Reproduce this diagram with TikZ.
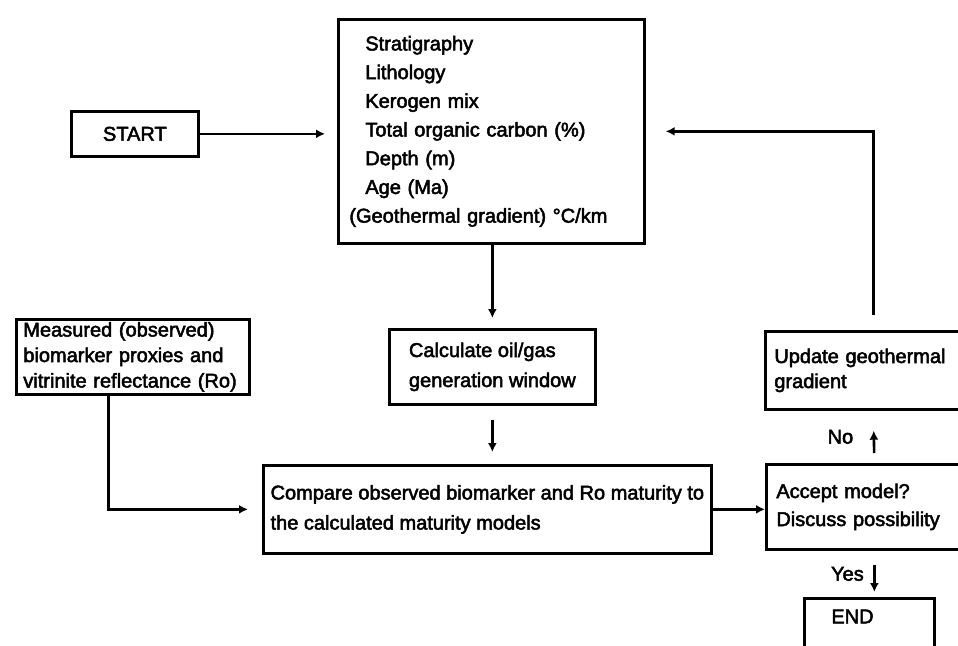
\documentclass[tikz,border=0pt]{standalone}
\usepackage{fontspec}
\setmainfont{Liberation Sans}[FakeBold=2.5]
\usetikzlibrary{arrows.meta}
\begin{document}
\begin{tikzpicture}[x=1pt,y=-1pt,
  box/.style={draw, line width=2.7pt, rectangle, inner ysep=0pt, anchor=north west},
  txt/.style={font=\fontsize{20}{#1}\selectfont},
  conn/.style={line width=2.6pt, -{Latex[length=9pt,width=9pt]}},
  lbl/.style={font=\fontsize{20}{24}\selectfont}]
\useasboundingbox (0,0) rectangle (958,645);
\clip (0,0) rectangle (958,645);
% nodes
\node[box, txt=24, minimum width=127pt, minimum height=45pt] (start) at (70,110) {START};
\node[box, txt=28.7, minimum width=306pt, minimum height=224pt, inner xsep=27pt,
      text width=252pt, align=left] (data) at (337,18)
  {Stratigraphy\\ Lithology\\ Kerogen mix\\ Total organic carbon (\%)\\ Depth (m)\\ Age (Ma)\\ \hspace*{-16pt}(Geothermal gradient) °C/km};
\node[box, txt=25.5, minimum width=233pt, minimum height=75pt, inner xsep=7pt,
      text width=219pt, align=left] (meas) at (15,318)
  {Measured (observed)\\ biomarker proxies and\\ vitrinite reflectance (Ro)};
\node[box, txt=30, minimum width=206pt, minimum height=75pt, align=left] (calc) at (388,328)
  {Calculate oil/gas\\ generation window};
\node[box, txt=30, minimum width=448pt, minimum height=88pt, align=left] (comp) at (262,464)
  {Compare observed biomarker and Ro maturity to\\ the calculated maturity models};
\node[box, txt=25, minimum width=216pt, minimum height=78pt, inner xsep=9pt,
      text width=198pt, align=left] (upd) at (764,330)
  {Update geothermal\\ gradient};
\node[box, txt=28, minimum width=216pt, minimum height=85pt, inner xsep=10pt,
      text width=196pt, align=left] (acc) at (765,463)
  {Accept model?\\ Discuss possibility};
\node[box, txt=24, minimum width=130pt, inner xsep=27pt, inner ysep=10pt,
      text width=76pt, align=left, text height=15pt, text depth=40pt] (end) at (803,597)
  {END};
% connectors
\draw[conn, shorten >=12pt] (start.east) -- (start.east -| data.west);
\draw[conn, shorten >=10pt] (data.south -| calc.north) -- (calc.north);
\draw[conn, shorten <=14pt, shorten >=12pt] (calc.south) -- (calc.south |- comp.north);
\draw[conn, shorten >=14pt] ([xshift=-24.5pt]meas.south) |- (comp.west);
\draw[conn] (comp.east) -- (comp.east -| acc.west);
\draw[conn, shorten <=10pt, shorten >=20pt] (acc.north) -- (upd.south)
  node[lbl, midway, left=16pt] {No};
\draw[conn, shorten <=14pt, shorten >=5pt] (acc.south) -- (acc.south |- end.north)
  node[lbl, midway, left=6pt] {Yes};
\draw[conn, shorten <=15pt, shorten >=20pt] (upd.north) |- (data.east);
\end{tikzpicture}
\end{document}
